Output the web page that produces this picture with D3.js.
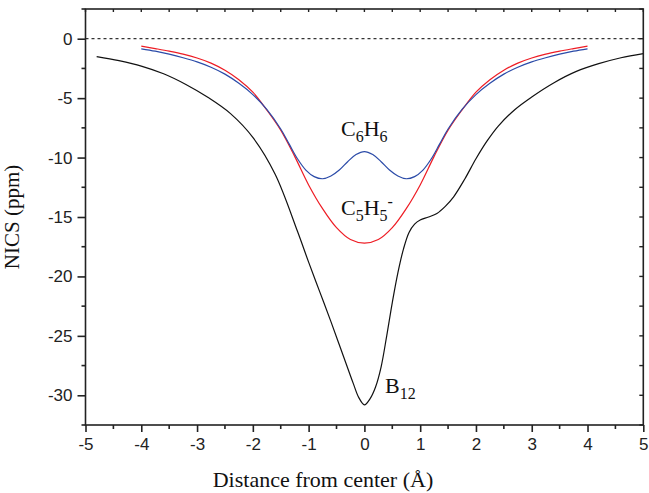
<!DOCTYPE html>
<html><head><meta charset="utf-8">
<script src="https://cdn.jsdelivr.net/npm/d3@7/dist/d3.min.js"></script>
<style>body{margin:0;background:#fff}svg{display:block}</style>
</head><body>
<svg id="c" width="649" height="493"></svg>
<script>
// B12
const b12X = [-4.8,-4.4,-4.0,-3.6,-3.2,-2.8,-2.4,-2.0,-1.6,-1.2,-1.0,-0.8,-0.6,-0.4,-0.2,-0.1,0,0.1,0.2,0.3,0.4,0.5,0.6,0.7,0.8,0.9,1.0,1.15,1.3,1.45,1.6,1.8,2.0,2.2,2.4,2.7,3.0,3.4,3.8,4.2,4.6,5.0];
const b12Y = [-1.5,-1.85,-2.3,-2.95,-3.85,-4.95,-6.3,-8.3,-11.4,-16.2,-18.8,-21.3,-23.8,-26.4,-29.0,-30.2,-30.8,-30.3,-29.3,-27.6,-25.0,-22.2,-19.7,-17.7,-16.3,-15.6,-15.25,-15.0,-14.7,-14.1,-13.3,-11.8,-10.1,-8.6,-7.35,-5.95,-4.9,-3.7,-2.75,-2.1,-1.6,-1.25];
// C5H5- (half, mirrored)
const c5X = [0,0.25,0.5,0.75,1.0,1.25,1.5,1.75,2.0,2.25,2.5,2.75,3.0,3.25,3.5,3.75,4.0];
const c5Y = [-17.2,-16.9,-15.9,-14.3,-12.3,-9.9,-7.7,-6.0,-4.5,-3.45,-2.65,-2.05,-1.62,-1.3,-1.05,-0.83,-0.62];
// C6H6 (half, mirrored)
const c6X = [0,0.15,0.3,0.45,0.6,0.75,0.9,1.05,1.2,1.35,1.5,1.75,2.0,2.25,2.5,2.75,3.0,3.25,3.5,3.75,4.0];
const c6Y = [-9.5,-9.75,-10.35,-11.05,-11.55,-11.78,-11.6,-11.05,-10.1,-8.85,-7.6,-5.95,-4.7,-3.75,-2.98,-2.4,-1.95,-1.6,-1.3,-1.05,-0.85];
const xTicks = [-5,-4,-3,-2,-1,0,1,2,3,4,5];
const yTicks = [0,-5,-10,-15,-20,-25,-30];

const mirror = (xs, ys) => {
  const pts = xs.map((x,i)=>[x,ys[i]]);
  const left = pts.slice(1).map(p=>[-p[0],p[1]]).reverse();
  return left.concat(pts);
};
const b12 = b12X.map((x,i)=>[x,b12Y[i]]);
const c5 = mirror(c5X,c5Y);
const c6 = mirror(c6X,c6Y);

const svg = d3.select("#c");
const L=85.5, R=643.3, T=9, B=425;
const x = d3.scaleLinear().domain([-5,5]).range([L,R]);
const y = d3.scaleLinear().domain([-32.5,2.5]).range([B,T]);
const axCol="#222";
const fmt = d => String(d);

svg.append("line").attr("x1",L).attr("x2",R).attr("y1",y(0)).attr("y2",y(0))
  .attr("stroke","#000").attr("stroke-width",1).attr("stroke-dasharray","3,3");

const line = d3.line().x(d=>x(d[0])).y(d=>y(d[1])).curve(d3.curveCatmullRom.alpha(0.5));
svg.append("path").datum(b12).attr("d",line).attr("fill","none").attr("stroke","#111").attr("stroke-width",1.2);
svg.append("path").datum(c5).attr("d",line).attr("fill","none").attr("stroke","#ee1c24").attr("stroke-width",1.2);
svg.append("path").datum(c6).attr("d",line).attr("fill","none").attr("stroke","#2b4ba8").attr("stroke-width",1.2);

svg.append("rect").attr("x",L).attr("y",T).attr("width",R-L).attr("height",B-T)
  .attr("fill","none").attr("stroke",axCol).attr("stroke-width",1.6);

const minorX = d3.range(-4.5,5,1);
const minorY = d3.range(2.5,-33,-5);
const gx = svg.append("g").attr("transform",`translate(0,${B})`)
  .call(d3.axisBottom(x).tickValues(xTicks).tickSize(7).tickPadding(6).tickFormat(fmt));
gx.select(".domain").remove();
gx.selectAll(".tick line").attr("stroke",axCol).attr("stroke-width",1.6);
gx.selectAll("text").attr("font-family","Liberation Sans, Arial").attr("font-size",17).attr("fill","#222");
svg.append("g").selectAll("line").data(minorX).join("line")
  .attr("x1",d=>x(d)).attr("x2",d=>x(d)).attr("y1",B).attr("y2",B+4).attr("stroke",axCol).attr("stroke-width",1.6);
const gy = svg.append("g").attr("transform",`translate(${L},0)`)
  .call(d3.axisLeft(y).tickValues(yTicks).tickSize(8).tickPadding(5).tickFormat(fmt));
gy.select(".domain").remove();
gy.selectAll(".tick line").attr("stroke",axCol).attr("stroke-width",1.6);
gy.selectAll("text").attr("font-family","Liberation Sans, Arial").attr("font-size",17).attr("fill","#222");
svg.append("g").selectAll("line").data(minorY).join("line")
  .attr("x1",L-4).attr("x2",L).attr("y1",d=>y(d)).attr("y2",d=>y(d)).attr("stroke",axCol).attr("stroke-width",1.6);
svg.append("g").selectAll("line").data(xTicks.concat(minorX)).join("line")
  .attr("x1",d=>x(d)).attr("x2",d=>x(d)).attr("y1",T).attr("y2",T+3).attr("stroke",axCol).attr("stroke-width",1.4);
svg.append("g").selectAll("line").data(yTicks.concat(minorY)).join("line")
  .attr("x1",R-4).attr("x2",R).attr("y1",d=>y(d)).attr("y2",d=>y(d)).attr("stroke",axCol).attr("stroke-width",1.4);

const serif="Liberation Serif, Times New Roman, serif";
svg.append("text").attr("x",323).attr("y",487).attr("text-anchor","middle")
  .attr("font-family",serif).attr("font-size",22).attr("fill","#111")
  .text("Distance from center (Å)");
svg.append("text").attr("transform",`translate(19,${(T+B)/2}) rotate(-90)`).attr("text-anchor","middle")
  .attr("font-family",serif).attr("font-size",21).attr("fill","#111").text("NICS (ppm)");

function label(px,py,parts){
  const t = svg.append("text").attr("x",px).attr("y",py).attr("font-family",serif).attr("font-size",22).attr("fill","#111");
  parts.forEach(p=>{
    const s = t.append("tspan").text(p[0]);
    if(p[1]==="sub") s.attr("font-size",16).attr("dy",6);
    else if(p[1]==="sup") s.attr("font-size",16).attr("dy",-14);
    else if(p[1]==="back") s.attr("dy",-6);
  });
}
label(341,136,[["C"],["6","sub"],["H","back"],["6","sub"]]);
label(341,215,[["C"],["5","sub"],["H","back"],["5","sub"],["-","sup"]]);
label(385,393,[["B"],["12","sub"]]);
</script>
</body></html>
